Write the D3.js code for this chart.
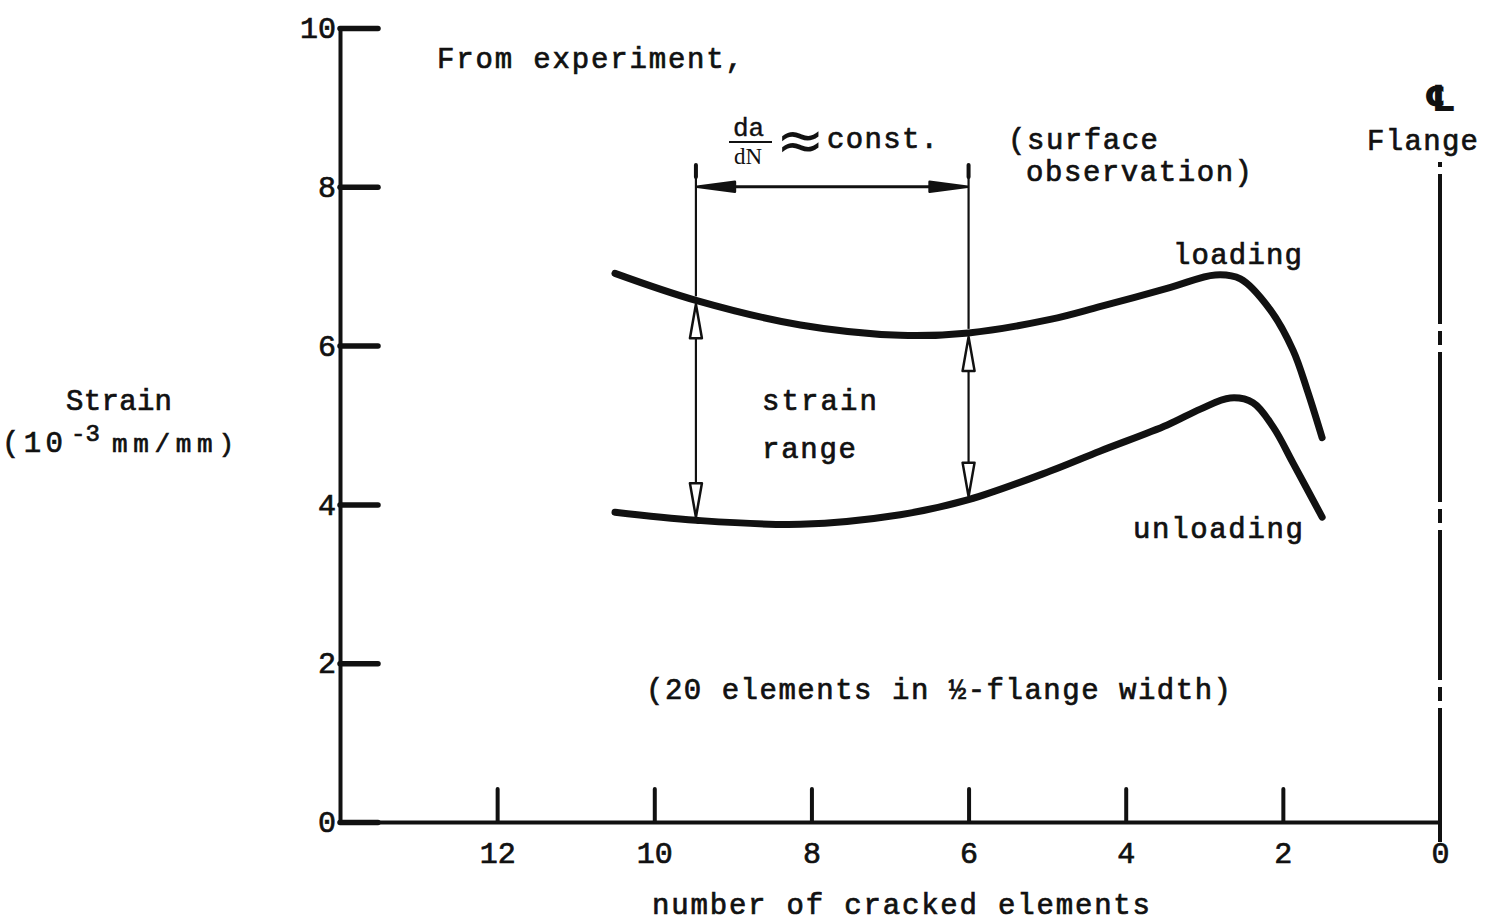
<!DOCTYPE html>
<html>
<head>
<meta charset="utf-8">
<script src="https://cdn.jsdelivr.net/npm/d3@7"></script>
<style>
  body { margin: 0; background: #fff; }
  svg text { font-family: "Liberation Mono", "DejaVu Sans Mono", monospace; fill: #111; }
</style>
</head>
<body>
<svg id="chart" width="1486" height="922"></svg>
<script>
// 横轴：裂纹单元数（右侧为翼缘中心线），纵轴：应变
const xTicks = [12, 10, 8, 6, 4, 2, 0];
const yTicks = [0, 2, 4, 6, 8, 10];

// loading curve [cracked elements, strain]
const loadingX = [10.5, 9.47, 8.14, 6.87, 6.0, 4.96, 4.33, 3.44, 2.86, 2.54, 2.16, 1.87, 1.69, 1.5];
const loadingY = [6.91, 6.57, 6.26, 6.13, 6.16, 6.33, 6.49, 6.73, 6.89, 6.84, 6.45, 5.94, 5.44, 4.84];
// unloading curve
const unloadingX = [10.5, 9.47, 8.14, 6.87, 6.0, 4.96, 4.33, 3.47, 3.05, 2.67, 2.38, 2.12, 1.87, 1.5];
const unloadingY = [3.90, 3.80, 3.75, 3.87, 4.06, 4.42, 4.67, 5.00, 5.20, 5.34, 5.28, 4.97, 4.52, 3.84];

// strain range arrows: x position, top (loading), bottom (unloading)
const rangeX = [9.47, 6.0];
const rangeTop = [6.57, 6.16];
const rangeBot = [3.80, 4.06];
const spanTopY = 8.25;   // top of the thin marker lines
const spanArrowY = 8.0;  // da/dN horizontal arrow

const svg = d3.select("#chart");

const x = d3.scaleLinear().domain([0, 14]).range([1440, 340]);
const y = d3.scaleLinear().domain([0, 10]).range([822, 28]);

// 坐标轴
const yAxis = d3.axisLeft(y).tickValues(yTicks).tickSizeInner(-38).tickSizeOuter(0).tickPadding(4);
const gy = svg.append("g").attr("transform", "translate(340,0)").call(yAxis);
gy.select(".domain").attr("stroke", "#111").attr("stroke-width", 4);
gy.selectAll(".tick line").attr("stroke", "#111").attr("stroke-width", 5.5).attr("stroke-linecap", "round");
gy.selectAll(".tick text").attr("font-size", 30).attr("fill", "#111")
  .attr("stroke", "#111").attr("stroke-width", 0.7)
  .style("font-family", "'Liberation Mono', monospace");

const xAxis = d3.axisBottom(x).tickValues(xTicks).tickSizeInner(-33).tickSizeOuter(0).tickPadding(20)
  .tickFormat(d3.format("d"));
const gx = svg.append("g").attr("transform", "translate(0,822)").call(xAxis);
gx.select(".domain").attr("stroke", "#111").attr("stroke-width", 4);
gx.selectAll(".tick line").attr("stroke", "#111").attr("stroke-width", 4).attr("stroke-linecap", "round")
  .attr("display", d => d === 0 ? "none" : null);
gx.selectAll(".tick text").attr("font-size", 30).attr("fill", "#111")
  .attr("stroke", "#111").attr("stroke-width", 0.7)
  .style("font-family", "'Liberation Mono', monospace");

// 翼缘中心线（点划线）
svg.append("line")
  .attr("x1", x(0)).attr("x2", x(0))
  .attr("y1", y(0) + 20).attr("y2", 162)
  .attr("stroke", "#111").attr("stroke-width", 4)
  .attr("stroke-dasharray", "150 7 14 7")
  .attr("stroke-dashoffset", 16);

// 曲线
const line = d3.line().x(d => x(d[0])).y(d => y(d[1])).curve(d3.curveCatmullRom.alpha(0.5));
const curves = [d3.zip(loadingX, loadingY), d3.zip(unloadingX, unloadingY)];
svg.selectAll("path.curve").data(curves).join("path")
  .attr("class", "curve")
  .attr("d", line)
  .attr("fill", "none").attr("stroke", "#111")
  .attr("stroke-width", 7).attr("stroke-linecap", "round").attr("stroke-linejoin", "round");

// 箭头
function arrowHead(tipX, tipY, dx, dy, len, half, filled) {
  const bx = tipX - dx * len, by = tipY - dy * len;
  const px = -dy * half, py = dx * half;
  svg.append("path")
    .attr("d", `M${tipX},${tipY}L${bx + px},${by + py}L${bx - px},${by - py}Z`)
    .attr("fill", filled ? "#111" : "#fff")
    .attr("stroke", "#111").attr("stroke-width", 2.5).attr("stroke-linejoin", "round");
}

rangeX.forEach((v, i) => {
  const px = x(v);
  // 上方细线
  svg.append("line").attr("x1", px).attr("x2", px)
    .attr("y1", y(spanTopY)).attr("y2", y(rangeTop[i]) - 4)
    .attr("stroke", "#111").attr("stroke-width", 2.2);
  svg.append("line").attr("x1", px).attr("x2", px)
    .attr("y1", y(spanTopY) - 2).attr("y2", y(spanTopY) + 10)
    .attr("stroke", "#111").attr("stroke-width", 4).attr("stroke-linecap", "round");
  // 应变幅双向箭头
  const t = y(rangeTop[i]) + 4, b = y(rangeBot[i]) - 3;
  svg.append("line").attr("x1", px).attr("x2", px).attr("y1", t + 30).attr("y2", b - 30)
    .attr("stroke", "#111").attr("stroke-width", 2.2);
  arrowHead(px, t, 0, -1, 34, 6, false);
  arrowHead(px, b, 0, 1, 34, 6, false);
});

// da/dN 水平箭头
const ay = y(spanArrowY);
svg.append("line").attr("x1", x(rangeX[0]) + 30).attr("x2", x(rangeX[1]) - 30)
  .attr("y1", ay).attr("y2", ay).attr("stroke", "#111").attr("stroke-width", 3);
arrowHead(x(rangeX[0]) + 1, ay, -1, 0, 38, 5, true);
arrowHead(x(rangeX[1]) - 1, ay, 1, 0, 38, 5, true);

// 文字
function label(txt, tx, ty, width, size) {
  const t = svg.append("text").attr("x", tx).attr("y", ty)
    .attr("font-size", size || 29)
    .attr("stroke", "#111").attr("stroke-width", 0.7)
    .text(txt);
  if (width) t.attr("textLength", width).attr("lengthAdjust", "spacing");
  return t;
}
label("From experiment,", 437, 68, 306);
label("(surface", 1008, 149, 150);
label("observation)", 1026, 181, 226);
label("Flange", 1367, 150, 111);
svg.append("text").attr("x", x(0)).attr("y", 111).attr("font-size", 36).attr("font-weight", "bold")
  .attr("text-anchor", "middle").style("font-family", "'DejaVu Sans', sans-serif").text("\u2104");
label("loading", 1173, 264, 129);
label("unloading", 1133, 538, 170);
label("strain", 762, 410, 115);
label("range", 762, 458, 94);
label("Strain", 66, 410, 106);
label("(10", 2, 452, 61);
label("-3", 71, 441, 29, 24);
label("mm/mm)", 112, 452, 122, 26);
label("(20 elements in \u00bd-flange width)", 646, 699, 585);
label("number of cracked elements", 652, 914, 498);

// da/dN ≈ const.
label("da", 733, 136, null, 26).attr("stroke-width", 0.4);
svg.append("line").attr("x1", 729).attr("x2", 772).attr("y1", 142).attr("y2", 142)
  .attr("stroke", "#111").attr("stroke-width", 2);
svg.append("text").attr("x", 734).attr("y", 164).attr("font-size", 23)
  .style("font-family", "'Liberation Serif', serif").text("dN");
svg.append("text").attr("x", 776).attr("y", 160).attr("font-size", 58)
  .style("font-family", "'DejaVu Sans', sans-serif").text("\u2248");
label("const.", 827, 148, 111);
</script>
</body>
</html>
